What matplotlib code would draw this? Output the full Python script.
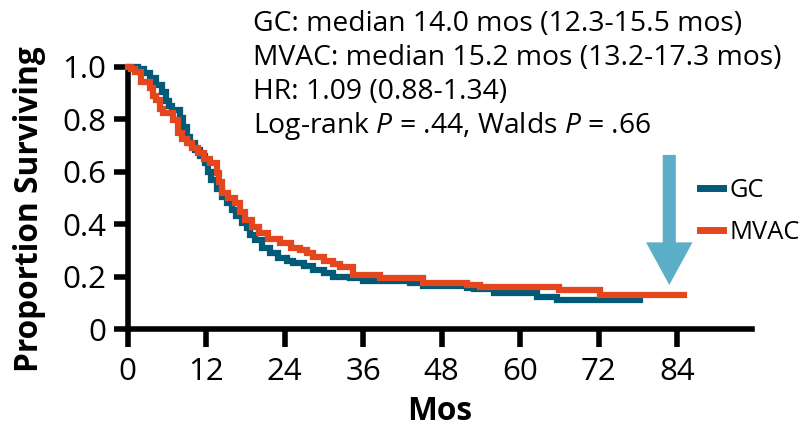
import matplotlib
matplotlib.use("Agg")
import matplotlib.pyplot as plt
from matplotlib.patches import FancyArrow

plt.rcParams['font.family'] = ['Open Sans', 'DejaVu Sans']
plt.rcParams['mathtext.fontset'] = 'custom'
plt.rcParams['mathtext.rm'] = 'Open Sans'
plt.rcParams['mathtext.it'] = 'Open Sans:italic'

# Kaplan-Meier step data (months, proportion surviving)
gc_t = [0, 1.6, 2.5, 3.4, 4.3, 5.2, 5.8, 6.3, 6.7, 8.0, 8.5, 9.0, 9.6, 10.3, 11.0,
        11.8, 12.3, 12.8, 13.6, 14.4, 15.2, 15.9, 16.6, 17.4, 18.2, 18.7, 19.5,
        20.5, 21.8, 23.0, 24.3, 25.3, 27.0, 28.4, 30.0, 31.4, 34.0, 36.0, 43.2,
        45.2, 51.8, 53.0, 56.0, 62.5, 65.6, 78.3]
gc_s = [1.0, 0.99, 0.975, 0.956, 0.93, 0.905, 0.87, 0.85, 0.835, 0.804, 0.77,
        0.734, 0.71, 0.683, 0.66, 0.632, 0.60, 0.569, 0.535, 0.505, 0.48, 0.454,
        0.43, 0.404, 0.385, 0.36, 0.34, 0.31, 0.29, 0.27, 0.26, 0.252, 0.24,
        0.226, 0.213, 0.20, 0.194, 0.184, 0.176, 0.165, 0.157, 0.152, 0.14,
        0.124, 0.112, 0.112]

mvac_t = [0, 0.5, 1.1, 2.1, 3.4, 3.9, 4.4, 5.0, 5.4, 7.0, 7.7, 8.3, 9.0, 9.8,
          10.8, 11.6, 12.6, 13.6, 14.0, 14.4, 15.4, 16.4, 17.2, 17.9, 19.0, 20.0,
          21.5, 23.3, 25.0, 26.4, 27.4, 28.4, 30.0, 31.4, 32.5, 34.5, 38.6, 45.2,
          51.8, 53.9, 66.0, 72.2, 85.0]
mvac_s = [1.0, 0.99, 0.98, 0.943, 0.918, 0.89, 0.873, 0.84, 0.823, 0.797, 0.747,
          0.725, 0.709, 0.69, 0.67, 0.65, 0.632, 0.594, 0.56, 0.518, 0.50, 0.48,
          0.445, 0.416, 0.39, 0.366, 0.345, 0.328, 0.31, 0.302, 0.29, 0.277,
          0.26, 0.25, 0.238, 0.207, 0.197, 0.178, 0.169, 0.16, 0.15, 0.131, 0.131]

x_ticks = [0, 12, 24, 36, 48, 60, 72, 84]
y_ticks = [0, 0.2, 0.4, 0.6, 0.8, 1.0]
y_tick_labels = ["0", "0.2", "0.4", "0.6", "0.8", "1.0"]

annotation_lines = [
    "GC: median 14.0 mos (12.3-15.5 mos)",
    "MVAC: median 15.2 mos (13.2-17.3 mos)",
    "HR: 1.09 (0.88-1.34)",
    "Log-rank $\\mathit{P}$ = .44, Walds $\\mathit{P}$ = .66",
]

GC_COLOR = "#005A78"
MVAC_COLOR = "#E4461E"
ARROW_COLOR = "#5AAEC8"

W, H = 810, 429
fig = plt.figure(figsize=(W / 100, H / 100), dpi=100)
ax = fig.add_axes([127.7 / W, 1 - 329.3 / H, (751.7 - 127.7) / W, (329.3 - 66.7) / H])

ax.step(gc_t, gc_s, where='post', color=GC_COLOR, lw=4.5, clip_on=False,
        label="GC", solid_joinstyle='miter', zorder=3)
ax.step(mvac_t, mvac_s, where='post', color=MVAC_COLOR, lw=4.5, clip_on=False,
        label="MVAC", solid_joinstyle='miter', zorder=4)

ax.set_xlim(0, 95.4)
ax.set_ylim(0, 1.0)
ax.set_xticks(x_ticks)
ax.set_yticks(y_ticks)
ax.set_yticklabels(y_tick_labels)
for s in ['top', 'right']:
    ax.spines[s].set_visible(False)
for s in ['left', 'bottom']:
    ax.spines[s].set_linewidth(4)
ax.tick_params(axis='y', length=10, width=4, pad=5.5, labelsize=22.5)
ax.tick_params(axis='x', length=13, width=4, pad=7, labelsize=22.5)

ax.set_xlabel("Mos", fontsize=22.8, fontweight='bold', labelpad=6)
ax.set_ylabel("Proportion Surviving", fontsize=22.8, fontweight='bold')
ax.yaxis.set_label_coords(-0.131, 0.458)

# arrow
arr = FancyArrow(82.8, 0.664, 0, -(0.664 - 0.169), width=2.0, head_width=7.1,
                 head_length=0.162, length_includes_head=True,
                 color=ARROW_COLOR, lw=0, zorder=5)
ax.add_patch(arr)

leg = ax.legend(loc='upper left', bbox_to_anchor=(700 / W, 1 - 178 / H),
                bbox_transform=fig.transFigure, frameon=False, fontsize=18.4,
                handlelength=0.9, handletextpad=0.25, labelspacing=0.65,
                borderpad=0, borderaxespad=0)
for line in leg.get_lines():
    line.set_linewidth(5)

baselines = [30.7, 65.0, 99.0, 133.3]
for txt, yb in zip(annotation_lines, baselines):
    fig.text(253 / W, 1 - yb / H, txt, fontsize=20.3, va='baseline', ha='left')

fig.savefig("out.png", dpi=100)
